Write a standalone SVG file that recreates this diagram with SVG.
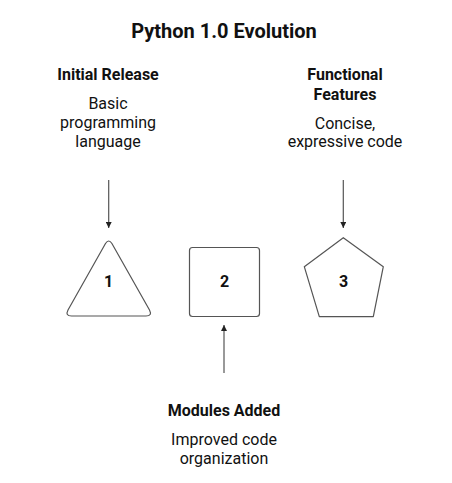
<svg xmlns="http://www.w3.org/2000/svg" width="452" height="483" viewBox="0 0 452 483">
<style>
text{font-family:Roboto,"Liberation Sans",sans-serif;fill:#111;text-anchor:middle}
.t{font-size:20px;font-weight:bold}
.h{font-size:16px;font-weight:bold}
.b{font-size:16px}
.n{font-size:16px;font-weight:bold}
.s{fill:#fff;stroke:#555;stroke-width:1.2;stroke-linejoin:round}
.c{stroke:#555;stroke-width:1.2;fill:none}
</style>
<defs>
<marker id="ah" viewBox="0 0 10 10" refX="10" refY="5" markerWidth="6" markerHeight="6" orient="auto" markerUnits="userSpaceOnUse">
<path d="M0,0L10,5L0,10z" fill="#222"/>
</marker>
</defs>
<rect width="452" height="483" fill="#fff"/>
<text class="t" x="224" y="38">Python 1.0 Evolution</text>
<g id="connectors">
<line class="c" x1="108.7" y1="180" x2="108.7" y2="228" marker-end="url(#ah)"/>
<line class="c" x1="343.3" y1="180" x2="343.3" y2="228" marker-end="url(#ah)"/>
<line class="c" x1="224" y1="373" x2="224" y2="325" marker-end="url(#ah)"/>
</g>
<g id="node1">
<text class="h" x="108" y="80">Initial Release</text>
<text class="b" x="108" y="109">Basic</text>
<text class="b" x="108" y="128">programming</text>
<text class="b" x="108" y="147">language</text>
<path class="s" d="M105.5,243.5Q108.7,238.5 111.9,243.5L149.5,310Q152.5,316 146,316L71.5,316Q65,316 68,310Z"/>
<text class="n" x="108.7" y="287">1</text>
</g>
<g id="node2">
<rect class="s" x="189.5" y="247.5" width="70" height="69" rx="3"/>
<text class="n" x="224.5" y="287">2</text>
</g>
<g id="node3">
<text class="h" x="345" y="80">Functional</text>
<text class="h" x="345" y="100">Features</text>
<text class="b" x="345" y="129">Concise,</text>
<text class="b" x="345" y="147">expressive code</text>
<path class="s" d="M343.3,237.7L383.3,266.7L373.3,316.7L319.3,316.7L304.3,266.7Z"/>
<text class="n" x="343.5" y="287">3</text>
</g>
<g id="node4">
<text class="h" x="224" y="416">Modules Added</text>
<text class="b" x="224" y="445">Improved code</text>
<text class="b" x="224" y="464">organization</text>
</g>
</svg>
